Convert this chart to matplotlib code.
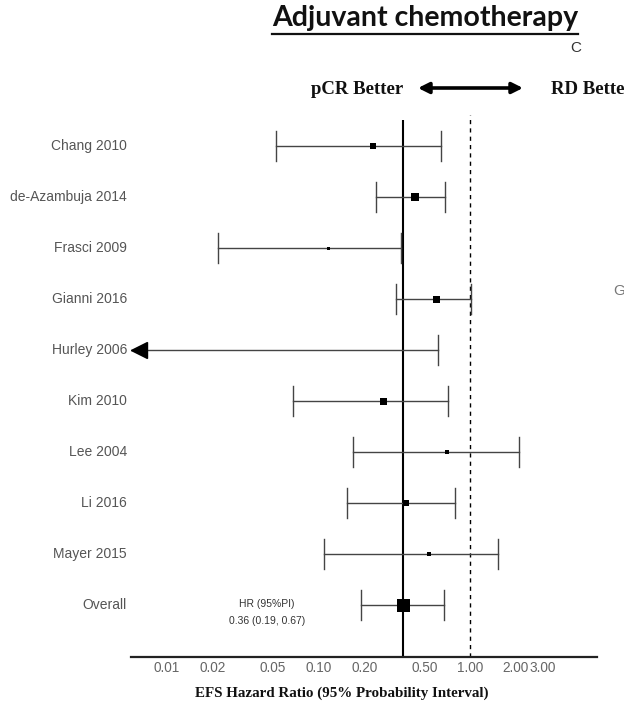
import numpy as np
import matplotlib
matplotlib.use("Agg")
import matplotlib.pyplot as plt
from matplotlib.lines import Line2D

# ---- data -------------------------------------------------------------
studies = ["Chang 2010", "de-Azambuja 2014", "Frasci 2009", "Gianni 2016",
           "Hurley 2006", "Kim 2010", "Lee 2004", "Li 2016", "Mayer 2015",
           "Overall"]
hr = [0.228, 0.43, 0.115, 0.60, np.nan, 0.265, 0.705, 0.38, 0.54, 0.36]
lo = [0.052, 0.24, 0.0218, 0.326, np.nan, 0.068, 0.17, 0.154, 0.109, 0.19]
hi = [0.64, 0.68, 0.352, 1.02, 0.61, 0.72, 2.1, 0.795, 1.52, 0.67]
weight_px = [6, 8, 3, 7, 0, 7, 4, 6, 5, 13]   # square marker size (pixels)

tick_vals = [0.01, 0.02, 0.05, 0.10, 0.20, 0.50, 1.00, 2.00, 3.00]
tick_labels = ["0.01", "0.02", "0.05", "0.10", "0.20", "0.50", "1.00",
               "2.00", "3.00"]
overall_text = ["HR (95%PI)", "0.36 (0.19, 0.67)"]

# ---- figure -----------------------------------------------------------
W, H = 624, 706
fig = plt.figure(figsize=(W / 100, H / 100), dpi=100)


def fx(px):
    return px / W


def fy(py):
    return 1 - py / H


ax_left, ax_right, ax_top, ax_bot = 131, 597, 115, 657
ax = fig.add_axes([fx(ax_left), fy(ax_bot), (ax_right - ax_left) / W,
                   (ax_bot - ax_top) / H])
ax.set_xscale("log")
xmin, xmax = 0.00578, 6.89
ax.set_xlim(xmin, xmax)

row0, row_gap = 146, 51
ylo = (ax_bot - row0) / row_gap
yhi = (ax_top - row0) / row_gap
ax.set_ylim(ylo, yhi)

for s in ["top", "left", "right"]:
    ax.spines[s].set_visible(False)
ax.spines["bottom"].set_linewidth(1.6)
ax.spines["bottom"].set_color("#222222")
ax.set_yticks([])
ax.minorticks_off()
ax.set_xticks(tick_vals)
ax.set_xticklabels(tick_labels)
ax.tick_params(axis="x", length=0, pad=3, labelsize=9.8, labelcolor="#666666")
for t in ax.get_xticklabels():
    t.set_fontfamily("Liberation Sans")

# reference lines
ax.vlines(hr[-1], ylo, (120 - row0) / row_gap, color="black", lw=1.5,
          zorder=2)
ax.vlines(1.0, ylo, yhi, color="black", lw=1.0, linestyles=(0, (3, 3)),
          zorder=2)

cap = 0.30
line_col = "#444444"
for i, name in enumerate(studies):
    left = lo[i] if not np.isnan(lo[i]) else xmin
    ax.plot([left, hi[i]], [i, i], color=line_col, lw=1.0, zorder=3)
    if not np.isnan(lo[i]):
        ax.plot([lo[i], lo[i]], [i - cap, i + cap], color=line_col, lw=1.0,
                zorder=3)
    else:
        ax.plot([xmin * 1.13], [i], marker="<", markersize=11,
                color="black", clip_on=False, zorder=4)
    ax.plot([hi[i], hi[i]], [i - cap, i + cap], color=line_col, lw=1.0,
            zorder=3)
    if not np.isnan(hr[i]):
        ax.plot([hr[i]], [i], marker="s", markersize=weight_px[i] * 0.72,
                color="black", markeredgewidth=0, zorder=5)
    fig.text(fx(127), fy(row0 + row_gap * i), name, ha="right",
             va="center", fontsize=10, color="#555555",
             family="Liberation Sans")

fig.text(fx(267), fy(604), overall_text[0], ha="center", va="center",
         fontsize=7.5, color="#333333", family="Liberation Sans")
fig.text(fx(267), fy(621), overall_text[1], ha="center", va="center",
         fontsize=7.5, color="#333333", family="Liberation Sans")

fig.text(fx(342), fy(693), "EFS Hazard Ratio (95% Probability Interval)",
         ha="center", va="center", fontsize=10.8, fontweight="bold",
         family="Liberation Serif", color="#111111")

# header
title = fig.text(fx(425), fy(26), "Adjuvant chemotherapy", ha="center",
                 va="baseline", fontsize=20.5, fontweight="bold",
                 family="Lato", color="#111111")
fig.text(fx(357), fy(90), "pCR Better", ha="center", va="center",
         fontsize=13.5, fontweight="bold", family="Liberation Serif",
         color="#111111")
fig.text(fx(551), fy(90), "RD Better", ha="left", va="center",
         fontsize=13.5, fontweight="bold", family="Liberation Serif",
         color="#111111")
fig.text(fx(576), fy(48), "C", ha="center", va="center", fontsize=11,
         family="Liberation Sans", color="#333333")
fig.text(fx(613), fy(291), "G", ha="left", va="center", fontsize=11,
         family="Liberation Sans", color="#777777")

fig.patches.append(matplotlib.patches.FancyArrowPatch(
    (fx(418), fy(88)), (fx(523), fy(88)), transform=fig.transFigure,
    arrowstyle="<|-|>", mutation_scale=16, lw=2.6, color="black",
    shrinkA=0, shrinkB=0))

# underline the title
fig.canvas.draw()
bb = title.get_window_extent(fig.canvas.get_renderer())
fig.lines.append(Line2D([bb.x0 / W, bb.x1 / W], [fy(34), fy(34)],
                        transform=fig.transFigure, color="#111111", lw=1.6))

fig.savefig("out.png", dpi=100)
